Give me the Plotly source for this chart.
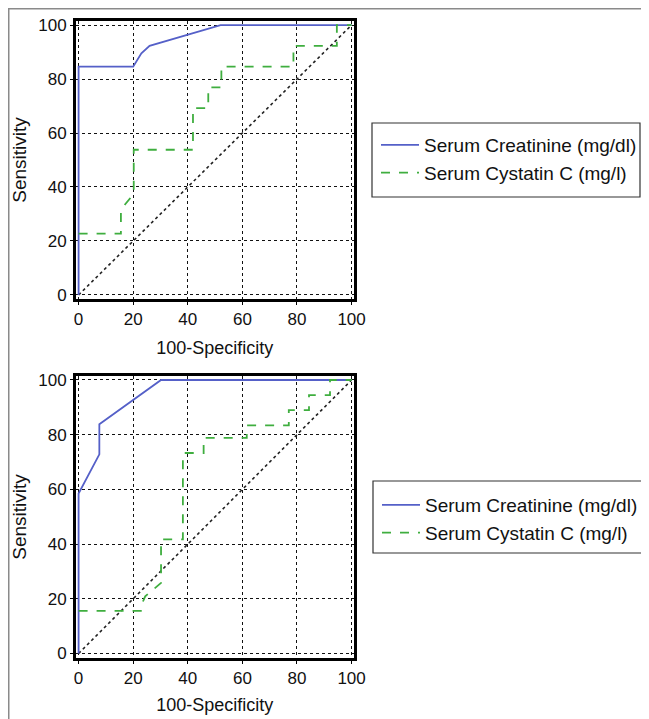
import plotly.graph_objects as go

# ---- data ----
ticks = [0, 20, 40, 60, 80, 100]
tick_labels = ["0", "20", "40", "60", "80", "100"]

name_creat = "Serum Creatinine (mg/dl)"
name_cyst = "Serum Cystatin C (mg/l)"

# Panel 1
p1_creat_x = [0, 0, 20, 23, 26, 40, 52, 100]
p1_creat_y = [0, 84.6, 84.6, 89.5, 92.3, 96.5, 100, 100]
p1_cyst_x = [0, 15.5, 15.5, 17, 18.8, 20.2, 20.2, 41.9, 41.9, 47.5, 47.5, 52.3, 52.3, 78.7, 78.7, 94.6, 94.6, 100]
p1_cyst_y = [22.7, 22.7, 30.8, 33.5, 35.7, 38.5, 53.8, 53.8, 69.2, 69.2, 76.9, 76.9, 84.6, 84.6, 92.3, 92.3, 100, 100]

# Panel 2
p2_creat_x = [0, 0, 7.6, 7.6, 30.2, 100]
p2_creat_y = [0, 58.5, 72.8, 83.8, 100, 100]
p2_cyst_x = [0, 22.8, 22.8, 24.4, 30.2, 30.2, 38.2, 38.2, 45.8, 45.8, 61.6, 61.6, 77, 77, 84.4, 84.4, 92.1, 92.1, 100]
p2_cyst_y = [15.6, 15.6, 17.2, 20.9, 25.8, 41.7, 41.7, 73.3, 73.3, 78.8, 78.8, 83.4, 83.4, 89, 89, 94.5, 94.5, 100, 100]

diag_x = [0, 100]
diag_y = [0, 100]

# ---- style ----
OFF = 8                      # page body margin of the viewer
W, H = 649 - OFF, 719 - OFF
BLUE = "#5560c8"
GREEN = "#3fae3f"
FONT = "Liberation Sans, Arial, sans-serif"

def px_x(p):
    return (p - OFF) / W

def px_y(p):
    return 1 - (p - OFF) / H

fig = go.Figure()

def add_panel(xa, ya, cx, cy, sx, sy, legend):
    fig.add_trace(go.Scatter(x=diag_x, y=diag_y, mode="lines", xaxis=xa, yaxis=ya,
                             line=dict(color="#222222", width=1.6, dash="dot"),
                             showlegend=False, hoverinfo="skip"))
    fig.add_trace(go.Scatter(x=cx, y=cy, mode="lines", name=name_creat, xaxis=xa, yaxis=ya,
                             line=dict(color=BLUE, width=1.8), legend=legend))
    fig.add_trace(go.Scatter(x=sx, y=sy, mode="lines", name=name_cyst, xaxis=xa, yaxis=ya,
                             line=dict(color=GREEN, width=1.8, dash="dash"), legend=legend))

add_panel("x", "y", p1_creat_x, p1_creat_y, p1_cyst_x, p1_cyst_y, "legend")
add_panel("x2", "y2", p2_creat_x, p2_creat_y, p2_cyst_x, p2_cyst_y, "legend2")

axis_common = dict(
    tickmode="array", tickvals=ticks, ticktext=tick_labels,
    showgrid=True, gridcolor="#111111", griddash="dot", gridwidth=1,
    zeroline=False, showline=True, linecolor="black", linewidth=3, mirror=True,
    ticks="outside", ticklen=3, tickcolor="black",
    tickfont=dict(family=FONT, size=17, color="#111111"),
    automargin=False, fixedrange=True,
)

xdom = [px_x(76), px_x(353.5)]
legend_common = dict(xanchor="left", yanchor="top", borderwidth=0,
                     bgcolor="rgba(0,0,0,0)", itemwidth=38,
                     font=dict(family=FONT, size=19, color="#111111"))

def box(x0, x1, y0, y1):
    return dict(type="rect", xref="paper", yref="paper",
                x0=px_x(x0), x1=px_x(x1), y0=px_y(y1), y1=px_y(y0),
                line=dict(color="#333333", width=1.2), fillcolor="white", layer="below")

fig.update_layout(
    width=W, height=H, autosize=False,
    margin=dict(l=0, r=0, t=0, b=0),
    paper_bgcolor="white", plot_bgcolor="white",
    font=dict(family=FONT, color="#111111"),
    xaxis=dict(axis_common, domain=xdom, range=[-0.95, 100.7], anchor="y",
               title=dict(text="100-Specificity", font=dict(size=18), standoff=13)),
    yaxis=dict(axis_common, domain=[px_y(299), px_y(21)], range=[-1.5, 101.5], anchor="x",
               title=dict(text="Sensitivity", font=dict(size=19), standoff=7)),
    xaxis2=dict(axis_common, domain=xdom, range=[-0.95, 100.7], anchor="y2",
                title=dict(text="100-Specificity", font=dict(size=18), standoff=11)),
    yaxis2=dict(axis_common, domain=[px_y(658), px_y(376)], range=[-1.65, 101.46], anchor="x2",
                title=dict(text="Sensitivity", font=dict(size=19), standoff=7)),
    legend=dict(legend_common, x=px_x(376), y=px_y(126)),
    legend2=dict(legend_common, x=px_x(377), y=px_y(486)),
    shapes=[
        dict(type="line", xref="paper", yref="paper", x0=px_x(7), x1=1, y0=px_y(8.5), y1=px_y(8.5),
             line=dict(color="#8a8a8a", width=2)),
        dict(type="line", xref="paper", yref="paper", x0=px_x(8.5), x1=px_x(8.5), y0=px_y(8), y1=0,
             line=dict(color="#8a8a8a", width=2)),
        box(372, 640, 123, 197),
        box(373, 644, 481, 553),
    ],
)

fig.write_html("out.html")
